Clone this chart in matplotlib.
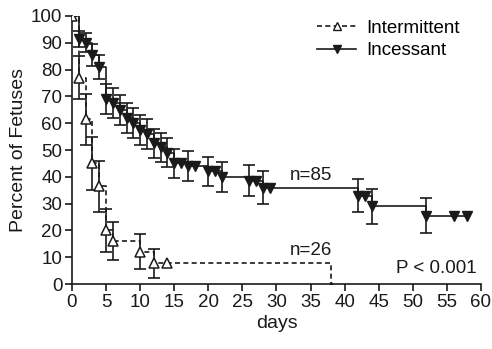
import matplotlib
matplotlib.use("Agg")
import matplotlib.pyplot as plt
import numpy as np

plt.rcParams['font.family'] = ['Liberation Sans', 'DejaVu Sans']

# Incessant group (n=85)
inc_days = [0, 1, 2, 3, 4, 5, 6, 7, 8, 9, 10, 11, 12, 13, 14, 15, 16, 17, 18,
            20, 21, 22, 26, 27, 28, 29, 42, 43, 44, 52, 56, 58]
inc_pct = [100, 91.5, 90, 85.5, 81, 69, 67.5, 65, 62, 60, 57.5, 56, 52.5, 51,
           49, 45, 45, 44, 44, 42, 42, 40, 38.5, 38.5, 36, 36, 33, 33, 29,
           25.5, 25.5, 25.5]
inc_err = [0, 3, 3.5, 4, 4.5, 5.5, 5.5, 5.5, 5.5, 5.5, 5.5, 5.5, 5.5, 5.5,
           5.5, 5.5, 0, 5.5, 0, 5.5, 0, 5.5, 5.8, 0, 6, 0, 6, 0, 6.5, 6.5,
           0, 0]

# Intermittent group (n=26)
int_days = [0, 1, 2, 3, 4, 5, 6, 10, 12, 14, 38]
int_pct = [100, 77, 61.5, 45, 36.5, 20, 16, 12, 7.7, 7.7, 0]
int_err = [0, 8, 9.5, 10, 9.5, 8, 7, 6.5, 5.5, 0, 0]

col = '#1a1a1a'
fig = plt.figure(figsize=(4.92, 3.49), dpi=100)
ax = fig.add_axes([0.1463, 0.1862, 0.8313, 0.768])

# step curves
ax.step(inc_days, inc_pct, where='post', color=col, lw=1.2)
ax.step(int_days, int_pct, where='post', color=col, lw=1.2, ls=(0, (3, 2)))

# error bars (only where present)
def bars(d, p, e):
    d, p, e = np.array(d), np.array(p), np.array(e)
    m = e > 0
    ax.errorbar(d[m], p[m], yerr=e[m], fmt='none', ecolor=col,
                elinewidth=1.2, capsize=4, capthick=1.2)

bars(inc_days, inc_pct, inc_err)
bars(int_days, int_pct, int_err)

# markers
ax.plot(inc_days, inc_pct, ls='none', marker='v', ms=6.5, color=col, zorder=4)
ax.plot(int_days[:-1], int_pct[:-1], ls='none', marker='^', ms=6.5,
        mfc='white', mec=col, mew=1.1, zorder=4)
ax.plot(int_days[-1:], int_pct[-1:], ls='none', marker='^', ms=3, color=col,
        zorder=4)

ax.set_xlim(0, 60)
ax.set_ylim(0, 100)
ax.set_xticks(range(0, 61, 5))
ax.set_yticks(range(0, 101, 10))
ax.spines['top'].set_visible(False)
ax.spines['right'].set_visible(False)
for s in ['left', 'bottom']:
    ax.spines[s].set_linewidth(1.2)
    ax.spines[s].set_color(col)
ax.tick_params(direction='out', length=5, width=1.2, labelsize=13.5,
               colors=col, pad=2)
ax.set_xlabel('days', fontsize=14, color=col, labelpad=3)
ax.set_ylabel('Percent of Fetuses', fontsize=14, color=col, labelpad=3)

ax.text(35, 37.5, 'n=85', fontsize=13.5, ha='center', va='bottom', color=col)
ax.text(35, 9.5, 'n=26', fontsize=13.5, ha='center', va='bottom', color=col)
ax.text(59.4, 2.6, 'P < 0.001', fontsize=13.5, ha='right', va='bottom',
        color=col)

h1, = ax.plot([], [], color=col, lw=1.2, ls=(0, (3, 2)), marker='^', ms=6,
              mfc='white', mec=col)
h2, = ax.plot([], [], color=col, lw=1.2, marker='v', ms=6)
ax.legend([h1, h2], ['Intermittent', 'Incessant'], loc='upper left',
          bbox_to_anchor=(0.558, 1.05), frameon=False, fontsize=13.5,
          handlelength=2.1, handletextpad=0.5, labelspacing=0.3)

fig.savefig('out.png', dpi=100)
